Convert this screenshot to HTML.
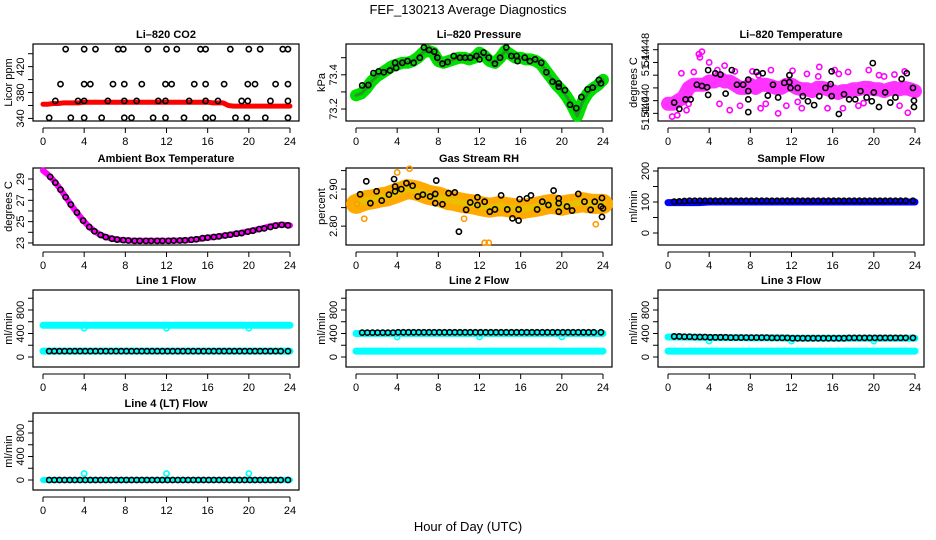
<!DOCTYPE html>
<html><head><meta charset="utf-8">
<style>
html,body{margin:0;padding:0;background:#fff;}
svg{display:block;font-family:"Liberation Sans",sans-serif;}
</style></head>
<body>
<svg id="c" width="936" height="540" viewBox="0 0 936 540">
<text x="468" y="14" text-anchor="middle" font-size="13">FEF_130213  Average Diagnostics</text>
<text x="468" y="531" text-anchor="middle" font-size="13">Hour of Day (UTC)</text>
</svg>
<script>
// ---------- data ----------
const xTicks=[0,4,8,12,16,20,24];
const halfHours=[0,0.5,1,1.5,2,2.5,3,3.5,4,4.5,5,5.5,6,6.5,7,7.5,8,8.5,9,9.5,10,10.5,11,11.5,12,12.5,13,13.5,14,14.5,15,15.5,16,16.5,17,17.5,18,18.5,19,19.5,20,20.5,21,21.5,22,22.5,23,23.5,24];
const hours=[0,1,2,3,4,5,6,7,8,9,10,11,12,13,14,15,16,17,18,19,20,21,22,23,24];
const flowT=[0.6,1.1,1.6,2.1,2.6,3.1,3.6,4.1,4.6,5.1,5.6,6.1,6.6,7.1,7.6,8.1,8.6,9.1,9.6,10.1,10.6,11.1,11.6,12.1,12.6,13.1,13.6,14.1,14.6,15.1,15.6,16.1,16.6,17.1,17.6,18.1,18.6,19.1,19.6,20.1,20.6,21.1,21.6,22.1,22.6,23.1,23.8];

// CO2
const co2BandV=[362,362,363,363,364,364,364,364,365,365,365,365,365,365,365,365,365,365,365,365,365,365,365,365,365,365,365,365,365,365,365,365,365,364,364,364,360,359,359,359,359,359,359,359,359,359,359,359,359];
const co2T=[2.2,4,5.1,7.3,7.8,10.2,12,13,15.3,15.8,18.2,20,21.1,23.3,23.8, 1.7,4,4.6,6.8,7.9,9.6,11.9,12.5,14.7,15.8,17.6,19.9,20.6,22.6,23.8, 1.2,3.4,4,6.3,7.9,9.1,11.2,11.9,14.2,15.8,17,19.3,19.9,22.1,23.8, 0.6,2.7,4,5.7,7.9,8.6,10.7,11.9,13.7,15.8,16.5,18.7,19.8,21.6,23.8];
const co2V=[447,447,447,447,447,447,447,447,447,447,447,447,447,447,447, 393,393,393,393,393,393,393,393,393,393,393,393,393,393,393, 367,367,367,367,367,367,367,367,367,367,367,367,367,367,367, 341,341,341,341,341,341,341,341,341,341,341,341,341,341,341];

// Pressure
const presBandV=[73.28,73.29,73.32,73.36,73.39,73.41,73.43,73.45,73.46,73.47,73.47,73.48,73.5,73.53,73.54,73.53,73.48,73.47,73.48,73.49,73.5,73.5,73.49,73.5,73.53,73.51,73.48,73.47,73.5,73.54,73.52,73.5,73.5,73.49,73.49,73.48,73.46,73.42,73.38,73.34,73.31,73.27,73.22,73.16,73.24,73.29,73.32,73.34,73.37];
const presT=[0.6,1.2,1.7,2.2,2.7,3.3,3.8,3.9,4.5,5,5.6,6.2,6.6,7.1,7.6,7.9,8.4,8.9,9.5,10.1,10.6,11.1,11.7,12,12.4,12.9,13.5,14,14.6,15.1,15.6,15.7,16.4,16.9,17.4,18,18.5,19.1,19.7,19.7,20.3,20.8,21.4,21.9,22.5,23,23.6,23.8];
const presV=[73.338,73.34,73.41,73.42,73.415,73.425,73.47,73.44,73.47,73.48,73.47,73.5,73.56,73.545,73.535,73.5,73.465,73.475,73.51,73.5,73.5,73.5,73.51,73.49,73.53,73.5,73.465,73.5,73.56,73.51,73.51,73.48,73.5,73.48,73.49,73.47,73.415,73.36,73.33,73.35,73.31,73.225,73.205,73.27,73.315,73.325,73.37,73.35];

// Li-820 temperature
const tempBandV=[51.4395,51.4395,51.44,51.4405,51.442,51.4425,51.4425,51.4425,51.443,51.443,51.4435,51.443,51.443,51.4425,51.442,51.442,51.4425,51.442,51.4425,51.4425,51.4423,51.442,51.442,51.4425,51.4425,51.442,51.4418,51.4418,51.4415,51.442,51.442,51.4418,51.4415,51.4412,51.4415,51.4415,51.4418,51.4418,51.442,51.442,51.4418,51.4418,51.4415,51.4418,51.442,51.4418,51.442,51.4418,51.4415];
const tempOutT=[3.0,3.1,3.3,4.0,5.5,0.4,0.9,14.7,14.6,23.3,10.7,16.2,8.2,12.1,19.5,6.0,1.3,2.5,4.8,7.0,9.0,10.0,11.5,13.0,15.5,17.5,18.5,21.0,22.5,2.0,6.5,9.5,13.5,17.0,20.5,22.0,1.8,5.0,8.8,12.6,16.6,19.0,23.0];
const tempOutV=[51.4473,51.4468,51.4477,51.446,51.4455,51.4375,51.4377,51.4453,51.4438,51.4381,51.438,51.4448,51.4446,51.4447,51.4448,51.4385,51.4443,51.4445,51.4448,51.4392,51.4388,51.4448,51.4392,51.4388,51.4388,51.4445,51.4392,51.4438,51.4392,51.4395,51.4446,51.4395,51.4442,51.4388,51.444,51.4441,51.4385,51.4395,51.444,51.4398,51.4442,51.4396,51.4446];
const tempT=[0.6,1.1,1.7,2.2,2.8,3.3,3.8,3.9,3.9,4.6,5.1,5.6,6.2,6.7,7.3,7.8,7.8,7.8,7.8,8.6,9.2,9.7,10.2,10.7,11.3,11.8,11.8,11.9,12.6,13.1,13.6,14.2,14.7,15.3,15.8,15.9,15.9,16.6,17.1,17.6,18.2,18.7,19.3,19.8,19.9,20,20.5,21.1,21.6,22.1,22.7,23.2,23.8,23.9,23.9];
const tempV=[51.4397,51.4387,51.4402,51.4402,51.4425,51.4423,51.4421,51.4448,51.4409,51.4443,51.4441,51.4411,51.4448,51.4425,51.4425,51.4433,51.4415,51.4402,51.4382,51.4445,51.4443,51.4408,51.4425,51.4405,51.4428,51.444,51.4429,51.442,51.442,51.4407,51.4399,51.4393,51.4407,51.442,51.4426,51.4446,51.4407,51.4379,51.441,51.4402,51.4402,51.4415,51.4405,51.4399,51.4459,51.4413,51.439,51.4413,51.4397,51.4405,51.4434,51.4443,51.442,51.44,51.439];
const tempTickV=[51.438,51.44,51.442,51.444,51.446,51.448];
const tempTickL=["51.440","51.440","","","51.44","51.448"];

// Ambient box temperature
const ambBandV=[29.8,29.4,28.9,28.3,27.6,26.9,26.2,25.6,25.0,24.5,24.1,23.8,23.6,23.45,23.35,23.3,23.25,23.22,23.2,23.2,23.2,23.2,23.2,23.2,23.2,23.22,23.22,23.23,23.25,23.3,23.35,23.42,23.5,23.55,23.6,23.68,23.75,23.82,23.9,24.0,24.1,24.2,24.3,24.42,24.55,24.65,24.7,24.7,24.65];
const ambT=[0.7,1.2,1.7,2.2,2.7,3.3,3.9,4.5,5.0,5.6,6.1,6.7,7.2,7.8,8.3,8.9,9.4,10.0,10.5,11.1,11.6,12.2,12.7,13.3,13.8,14.4,14.9,15.5,16.0,16.6,17.1,17.7,18.2,18.8,19.3,19.9,20.4,21.0,21.5,22.1,22.6,23.2,23.8];
const ambV=[29.2,28.65,28.0,27.3,26.6,25.85,25.1,24.5,24.1,23.75,23.55,23.4,23.32,23.27,23.23,23.2,23.2,23.2,23.2,23.2,23.2,23.2,23.22,23.23,23.25,23.3,23.35,23.45,23.5,23.56,23.62,23.7,23.77,23.87,23.93,24.05,24.15,24.3,24.37,24.5,24.62,24.7,24.65];

// Gas stream RH
const rhBandV=[2.86,2.865,2.87,2.872,2.875,2.878,2.88,2.885,2.89,2.895,2.9,2.898,2.895,2.89,2.885,2.882,2.88,2.875,2.87,2.868,2.865,2.862,2.86,2.858,2.855,2.852,2.85,2.852,2.855,2.852,2.85,2.848,2.845,2.848,2.85,2.852,2.855,2.858,2.86,2.858,2.855,2.858,2.86,2.862,2.865,2.862,2.86,2.86,2.86];
const rhT=[0.4,1,1.4,2,2.5,3.2,3.7,3.8,3.8,4.4,4.9,5.5,6,6.5,7.2,7.7,7.7,7.8,8.4,9,9.6,10,10.7,11.1,11.8,11.8,12.5,13,13.5,14.1,14.7,15.2,15.8,15.8,15.9,16.6,17,17.6,18.1,18.7,19.2,19.7,19.7,19.7,20.5,21,21.6,22.2,22.8,23.2,23.8,23.9,23.9,24];
const rhV=[2.886,2.921,2.862,2.894,2.869,2.885,2.927,2.907,2.894,2.9,2.916,2.909,2.88,2.885,2.88,2.887,2.862,2.923,2.859,2.889,2.891,2.785,2.844,2.864,2.857,2.878,2.866,2.839,2.845,2.883,2.845,2.821,2.815,2.845,2.873,2.875,2.883,2.845,2.866,2.857,2.896,2.875,2.862,2.839,2.853,2.842,2.887,2.866,2.844,2.866,2.853,2.825,2.876,2.848];
const rhOutT=[12.5,12.9,5.2,0.1,0.8,23.3,4.0,10.5];
const rhOutV=[2.755,2.755,2.955,2.86,2.82,2.805,2.945,2.82];

// Sample flow
const sampBandV=[98,98,98,98,100,100,100,100,100,100,100,100,100,100,100,100,100,100,100,100,100,100,100,100,100];
const sampV=[101,102,103,104,104,104,104,104,104,104,104,104,104,104,104,104,104,104,104,104,104,104,104,104,104,104,104,104,104,104,104,104,104,104,104,104,104,104,104,104,104,104,104,104,104,104,104];

// Line flows
const l1HiV=[540,540,540,540,540,540,540,540,540,540,540,540,540,540,540,540,540,540,540,540,540,540,540,540,540];
const l1LoV=[100,100,100,100,100,100,100,100,100,100,100,100,100,100,100,100,100,100,100,100,100,100,100,100,100];
const l1BlipT=[4,12,20]; const l1BlipV=[490,490,490];
const l1BlackV=[100,100,100,100,100,100,100,100,100,100,100,100,100,100,100,100,100,100,100,100,100,100,100,100,100,100,100,100,100,100,100,100,100,100,100,100,100,100,100,100,100,100,100,100,100,100,100];
const l2HiV=[400,400,400,400,400,400,400,400,400,400,400,400,400,400,400,400,400,400,400,400,400,400,400,400,400];
const l2LoV=[100,100,100,100,100,100,100,100,100,100,100,100,100,100,100,100,100,100,100,100,100,100,100,100,100];
const l2BlipT=[4,12,20]; const l2BlipV=[340,340,340];
const l2BlackV=[415,415,415,415,415,415,415,420,420,420,420,420,420,420,420,420,420,420,420,420,420,420,420,420,420,420,420,420,420,420,420,420,420,420,420,420,420,420,420,420,420,420,420,420,420,420,420];
const l3HiV=[340,340,335,335,330,330,330,330,325,325,325,325,320,320,320,320,320,320,320,320,320,320,320,320,320];
const l3LoV=[100,100,100,100,100,100,100,100,100,100,100,100,100,100,100,100,100,100,100,100,100,100,100,100,100];
const l3BlipT=[4,12,20]; const l3BlipV=[270,270,270];
const l3BlackV=[350,350,345,345,340,340,340,335,335,335,335,330,330,330,330,330,330,330,330,325,325,325,325,320,320,320,320,320,320,320,320,320,320,320,325,325,325,325,325,325,325,325,325,325,325,325,325];
const l4CyanV=[0,0,0,0,0,0,0,0,0,0,0,0,0,0,0,0,0,0,0,0,0,0,0,0,0];
const l4BlipT=[4,12,20]; const l4BlipV=[110,110,110];
const l4BlackV=[0,0,0,0,0,0,0,0,0,0,0,0,0,0,0,0,0,0,0,0,0,0,0,0,0,0,0,0,0,0,0,0,0,0,0,0,0,0,0,0,0,0,0,0,0,0,0];

// ---------- drawing ----------
const NS="http://www.w3.org/2000/svg";
const svg=document.getElementById('c');
function mk(tag,attrs,parent){const e=document.createElementNS(NS,tag);for(const k in attrs)e.setAttribute(k,attrs[k]);(parent||svg).appendChild(e);return e;}
const colX=[33,346,658], rowY=[44,168,290,413], BW=266, BH=77;

function panel(o){
  const bx=colX[o.col], by=rowY[o.row];
  const g=mk('g',{});
  
  
  const sx=h=>bx+10+h/24*247;
  const sy=v=>by+BH-(v-o.ymin)/(o.ymax-o.ymin)*BH;
  o.sx=sx;o.sy=sy;o.g=g;
  const r=mk('rect',{x:bx,y:by,width:BW,height:BH,fill:'none',stroke:'#000','stroke-width':1.2},g);
  
  
  const t=mk('text',{x:bx+BW/2,y:by-6,'text-anchor':'middle','font-size':11,'font-weight':'bold'},g);
  t.textContent=o.title;
  
  
  const ay=by+BH+7;
  mk('line',{x1:sx(0),x2:sx(24),y1:ay,y2:ay,stroke:'#000'},g);
  xTicks.forEach(h=>{
    mk('line',{x1:sx(h),x2:sx(h),y1:ay,y2:ay+5,stroke:'#000'},g);
    const l=mk('text',{x:sx(h),y:ay+17,'text-anchor':'middle','font-size':11},g);
    l.textContent=h;
    
    
  });
  const ax=bx;
  const tv=o.ticks;
  tv.forEach((v,i)=>{
    mk('line',{x1:ax-5,x2:ax,y1:sy(v),y2:sy(v),stroke:'#000'},g);
    const txt=o.labels[i];
    if(txt){
      const l=mk('text',{x:0,y:0,'text-anchor':'middle','font-size':11,transform:`translate(${ax-9},${sy(v)}) rotate(-90)`},g);
      l.textContent=txt;
      
      
    }
  });
  const yt=mk('text',{x:0,y:0,'text-anchor':'middle','font-size':11,transform:`translate(${bx-21},${by+BH/2}) rotate(-90)`},g);
  yt.textContent=o.ytitle;
  
  
  return o;
}
function band(o,ts,vs,color,w,name){
  const pts=ts.map((t,i)=>o.sx(t).toFixed(1)+','+o.sy(vs[i]).toFixed(1)).join(' ');
  const p=mk('polyline',{points:pts,fill:'none',stroke:color,'stroke-width':w,'stroke-linejoin':'round','stroke-linecap':'round'},o.g);
  
  
}
function pts(o,ts,vs,color,name,fill){
  ts.forEach((t,i)=>{
    const c=mk('circle',{cx:o.sx(t),cy:o.sy(vs[i]),r:2.6,fill:fill||'none',stroke:color,'stroke-width':1.6},o.g);
    
    
  });
}

let p=panel({col:0,row:0,name:'co2',title:'Li\u2013820 CO2',ytitle:'Licor ppm',ymin:336,ymax:455,ticks:[340,360,380,400,420,440],labels:['340','','380','','420','']});
band(p,halfHours,co2BandV,'#ff0000',5,'co2-series');
pts(p,co2T,co2V,'#000','co2-average-point');

p=panel({col:1,row:0,name:'pressure',title:'Li\u2013820 Pressure',ytitle:'kPa',ymin:73.13,ymax:73.58,ticks:[73.2,73.3,73.4,73.5],labels:['73.2','','73.4','']});
band(p,halfHours,presBandV,'#00e000',12,'pressure-series');
band(p,halfHours,presBandV,'#229922',3,'pressure-series-core');
pts(p,presT,presV,'#000','pressure-average-point');

p=panel({col:2,row:0,name:'li820-temp',title:'Li\u2013820 Temperature',ytitle:'degrees C',ymin:51.4368,ymax:51.4489,ticks:tempTickV,labels:tempTickL});
band(p,halfHours,tempBandV,'#ff33ff',14,'temperature-series');
pts(p,tempOutT,tempOutV,'#ff00ff','temperature-point');
pts(p,tempT,tempV,'#000','temperature-average-point');

p=panel({col:0,row:1,name:'ambient-temp',title:'Ambient Box Temperature',ytitle:'degrees C',ymin:22.81,ymax:30.03,ticks:[23,24,25,26,27,28,29],labels:['23','','25','','27','','29']});
band(p,halfHours,ambBandV,'#ff00ff',6,'ambient-series');
pts(p,ambT,ambV,'#000','ambient-average-point');

p=panel({col:1,row:1,name:'gas-rh',title:'Gas Stream RH',ytitle:'percent',ymin:2.749,ymax:2.957,ticks:[2.8,2.85,2.9,2.95],labels:['2.80','','2.90','']});
band(p,halfHours,rhBandV,'#ffaa00',20,'rh-series');
band(p,halfHours,rhBandV,'#e8c000',6,'rh-series-core');
pts(p,rhOutT,rhOutV,'#ff9900','rh-point');
pts(p,rhT,rhV,'#000','rh-average-point');

p=panel({col:2,row:1,name:'sample-flow',title:'Sample Flow',ytitle:'ml/min',ymin:-38.7,ymax:209.7,ticks:[0,50,100,150,200],labels:['0','','100','','200']});
band(p,hours,sampBandV,'#0000ff',7,'sample-flow-series');
pts(p,flowT,sampV,'#000','sample-flow-average-point');

const fl={ymin:-170,ymax:1140,ticks:[0,200,400,600,800,1000],labels:['0','','400','','800','']};
p=panel(Object.assign({col:0,row:2,name:'line1-flow',title:'Line 1 Flow',ytitle:'ml/min'},fl));
band(p,hours,l1HiV,'#00ffff',7,'line1-flow-high');
band(p,hours,l1LoV,'#00ffff',7,'line1-flow-low');
pts(p,l1BlipT,l1BlipV,'#00ffff','line1-blip');
pts(p,flowT,l1BlackV,'#000','line1-average-point');
p=panel(Object.assign({col:1,row:2,name:'line2-flow',title:'Line 2 Flow',ytitle:'ml/min'},fl));
band(p,hours,l2HiV,'#00ffff',7,'line2-flow-high');
band(p,hours,l2LoV,'#00ffff',7,'line2-flow-low');
pts(p,l2BlipT,l2BlipV,'#00ffff','line2-blip');
pts(p,flowT,l2BlackV,'#000','line2-average-point');
p=panel(Object.assign({col:2,row:2,name:'line3-flow',title:'Line 3 Flow',ytitle:'ml/min'},fl));
band(p,hours,l3HiV,'#00ffff',7,'line3-flow-high');
band(p,hours,l3LoV,'#00ffff',7,'line3-flow-low');
pts(p,l3BlipT,l3BlipV,'#00ffff','line3-blip');
pts(p,flowT,l3BlackV,'#000','line3-average-point');
p=panel(Object.assign({col:0,row:3,name:'line4-flow',title:'Line 4 (LT) Flow',ytitle:'ml/min'},fl));
band(p,hours,l4CyanV,'#00ffff',6,'line4-flow');
pts(p,l4BlipT,l4BlipV,'#00ffff','line4-blip');
pts(p,flowT,l4BlackV,'#000','line4-average-point');
</script>
</body></html>
